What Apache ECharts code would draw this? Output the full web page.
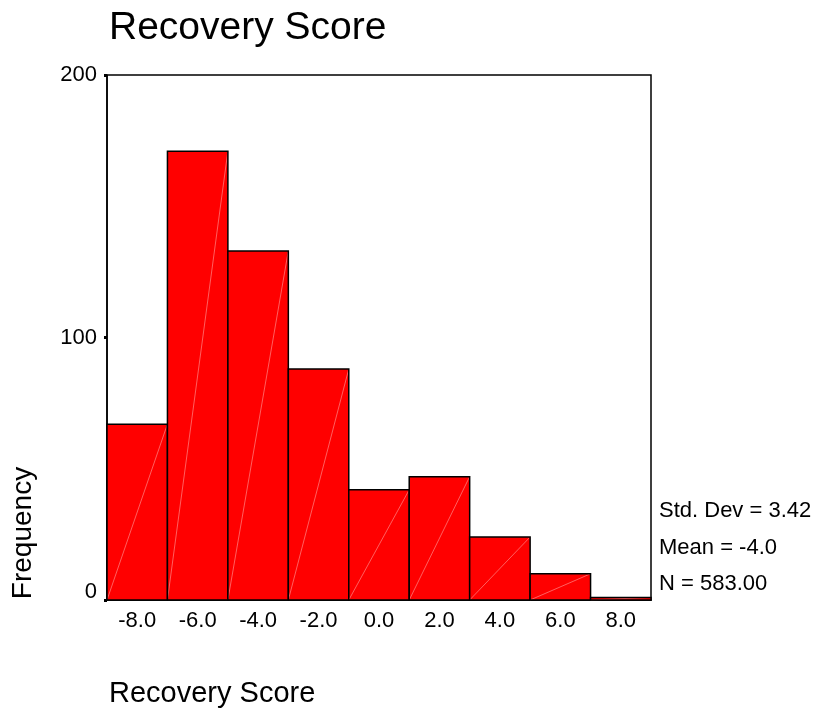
<!DOCTYPE html>
<html><head><meta charset="utf-8">
<script src="https://cdn.jsdelivr.net/npm/echarts@6/dist/echarts.min.js"></script>
<style>html,body{margin:0;padding:0;background:#fff}#c{width:819px;height:708px}</style>
</head><body><div id="c"></div>
<script>
const categories = ['-8.0','-6.0','-4.0','-2.0','0.0','2.0','4.0','6.0','8.0'];
const frequencies = [67,171,133,88,42,47,24,10,1];
const yTicks = [0,100,200];
const statsLines = ['Std. Dev = 3.42','Mean = -4.0','N = 583.00'];
const FONT = '"Liberation Sans", Arial, sans-serif';

const chart = echarts.init(document.getElementById('c'));
chart.setOption({
  animation:false,
  backgroundColor:'#fff',
  grid:{left:107,top:75,right:168,bottom:108,show:true,borderColor:'#000',borderWidth:1.5,backgroundColor:'transparent'},
  xAxis:{type:'category',data:categories,boundaryGap:true,
    axisLine:{lineStyle:{color:'#000',width:1.5}},
    axisTick:{alignWithLabel:true,length:5,lineStyle:{color:'#000',width:3}},
    axisLabel:{fontFamily:FONT,fontSize:22,color:'#000',margin:10},
    splitLine:{show:false}},
  yAxis:{type:'value',min:yTicks[0],max:yTicks[yTicks.length-1],interval:100,
    axisLine:{show:true,lineStyle:{color:'#000',width:1.5}},
    axisTick:{show:true,length:3,lineStyle:{color:'#000',width:3}},
    axisLabel:{fontFamily:FONT,fontSize:22,color:'#000',margin:10,
      formatter:function(v){return v===0?'{z|0}':String(v);},
      rich:{z:{fontFamily:FONT,fontSize:22,color:'#000',padding:[0,0,16,0]}}},
    splitLine:{show:false}},
  graphic:[
    {type:'text',x:109,y:9,style:{text:'Recovery Score',font:'39px '+FONT,fill:'#000',textVerticalAlign:'top'}},
    {type:'text',x:23,y:533,rotation:Math.PI/2,style:{text:'Frequency',font:'28px '+FONT,fill:'#000',textAlign:'center',textVerticalAlign:'middle'}},
    {type:'text',x:109,y:679,style:{text:'Recovery Score',font:'29px '+FONT,fill:'#000',textVerticalAlign:'top'}},
    {type:'text',x:659,y:500,style:{text:statsLines[0],font:'22px '+FONT,fill:'#000',textVerticalAlign:'top'}},
    {type:'text',x:659,y:537,style:{text:statsLines[1],font:'22px '+FONT,fill:'#000',textVerticalAlign:'top'}},
    {type:'text',x:659,y:573,style:{text:statsLines[2],font:'22px '+FONT,fill:'#000',textVerticalAlign:'top'}}
  ],
  series:[{
    type:'custom',
    data:frequencies.map((v,i)=>[i,v]),
    encode:{x:0,y:1},
    renderItem:function(params,api){
      const i=api.value(0), v=api.value(1);
      const p0=api.coord([i,0]), p1=api.coord([i,v]);
      const w=api.size([1,0])[0];
      const x0=p0[0]-w/2, x1=p0[0]+w/2;
      return {type:'group',children:[
        {type:'rect',shape:{x:x0,y:p1[1],width:w,height:p0[1]-p1[1]},style:{fill:'#ff0000',stroke:null}},
        {type:'line',shape:{x1:x0,y1:p0[1],x2:x1,y2:p1[1]},style:{stroke:'rgba(255,170,170,0.8)',lineWidth:0.7}},
        {type:'rect',shape:{x:x0,y:p1[1],width:w,height:p0[1]-p1[1]},style:{fill:null,stroke:'#000',lineWidth:1.5}}
      ]};
    }
  }]
});
</script></body></html>
